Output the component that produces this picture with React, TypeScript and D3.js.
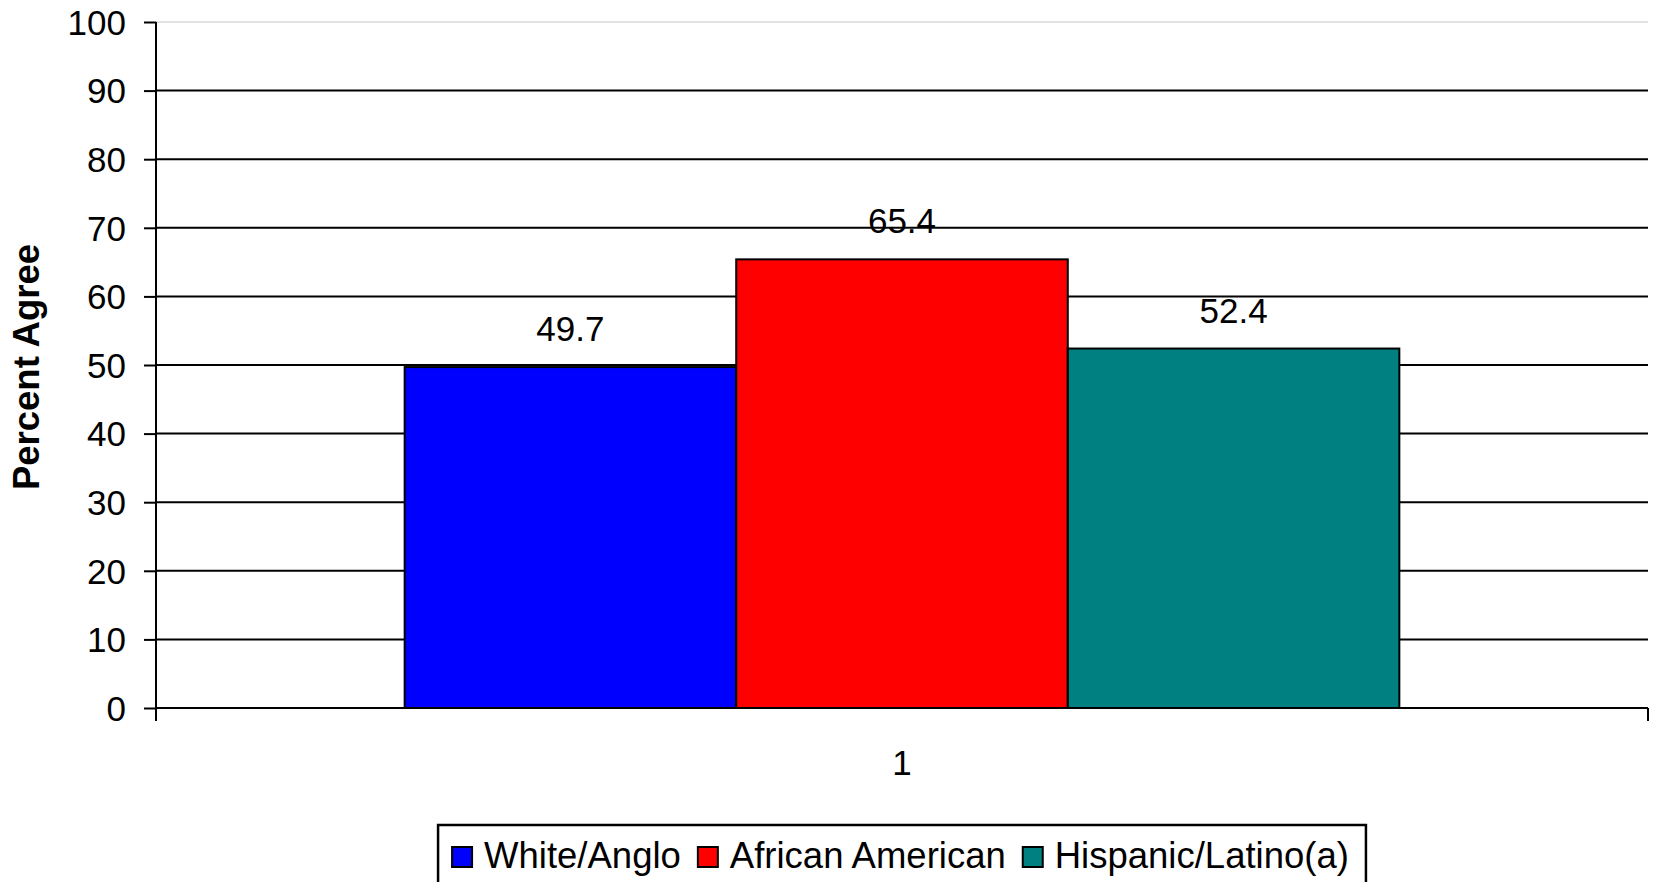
import { useEffect, useRef } from 'react';
import * as d3 from 'd3';

// chart values
const categories = ['1'];
const seriesNames = ['White/Anglo', 'African American', 'Hispanic/Latino(a)'];
const seriesValues = [49.7, 65.4, 52.4];
const seriesColors = ['#0000ff', '#ff0000', '#008080'];
const yTicks = [0, 10, 20, 30, 40, 50, 60, 70, 80, 90, 100];
const yTitle = 'Percent Agree';

const FONT = "'Liberation Sans', Arial, sans-serif";

export default function App() {
  const svgRef = useRef<SVGSVGElement>(null);

  useEffect(() => {
    if (!svgRef.current) return;
    const svg = d3.select(svgRef.current);
    svg.selectAll('*').remove();

    const width = 1658;
    const height = 882;
    const margin = { top: 22, right: 10, bottom: 174, left: 156 };
    const x0 = margin.left;
    const x1 = width - margin.right;
    const yBottom = height - margin.bottom;

    svg.attr('width', width).attr('height', height);

    const xScale = d3.scaleBand<string>()
      .domain(categories)
      .range([x0, x1])
      .paddingInner(0.2)
      .paddingOuter(0.2);

    const xInner = d3.scaleBand<string>()
      .domain(seriesNames)
      .range([0, xScale.bandwidth()]);

    const yScale = d3.scaleLinear()
      .domain([0, 100])
      .range([yBottom, margin.top]);

    // gridlines
    svg.append('g')
      .selectAll('line')
      .data(yTicks.filter(t => t > 0))
      .enter().append('line')
      .attr('x1', x0)
      .attr('x2', x1)
      .attr('y1', d => yScale(d))
      .attr('y2', d => yScale(d))
      .attr('stroke', d => (d === 100 ? '#e2e2e2' : '#000'))
      .attr('stroke-width', 2);

    // bars
    const rows = seriesNames.map((name, i) => ({ name, value: seriesValues[i], color: seriesColors[i] }));
    const group = svg.append('g').attr('transform', `translate(${xScale(categories[0])},0)`);

    group.selectAll('rect')
      .data(rows)
      .enter().append('rect')
      .attr('x', d => xInner(d.name)!)
      .attr('y', d => yScale(d.value))
      .attr('width', xInner.bandwidth())
      .attr('height', d => yBottom - yScale(d.value))
      .attr('fill', d => d.color)
      .attr('stroke', '#000')
      .attr('stroke-width', 2);

    group.selectAll('text.value')
      .data(rows)
      .enter().append('text')
      .attr('class', 'value')
      .attr('x', d => xInner(d.name)! + xInner.bandwidth() / 2)
      .attr('y', d => yScale(d.value) - 26)
      .attr('text-anchor', 'middle')
      .style('font-family', FONT)
      .style('font-size', '35px')
      .style('fill', '#000')
      .text(d => d.value.toFixed(1));

    // y axis
    const yAxis = d3.axisLeft(yScale)
      .tickValues(yTicks)
      .tickSize(12)
      .tickSizeOuter(0)
      .tickPadding(18);
    const yg = svg.append('g').attr('transform', `translate(${x0},0)`).call(yAxis as any);
    yg.select('.domain').remove();
    yg.selectAll('line').attr('stroke', '#000').attr('stroke-width', 2);
    yg.selectAll('text')
      .style('font-family', FONT)
      .style('font-size', '35px')
      .attr('dy', '0.35em')
      .attr('fill', '#000');

    svg.append('line')
      .attr('x1', x0).attr('x2', x0)
      .attr('y1', margin.top).attr('y2', yBottom + 13)
      .attr('stroke', '#000').attr('stroke-width', 2);

    // x axis
    svg.append('line')
      .attr('x1', x0).attr('x2', x1)
      .attr('y1', yBottom).attr('y2', yBottom)
      .attr('stroke', '#000').attr('stroke-width', 2);

    svg.append('g')
      .selectAll('line')
      .data([x0, x1])
      .enter().append('line')
      .attr('x1', d => d).attr('x2', d => d)
      .attr('y1', yBottom).attr('y2', yBottom + 13)
      .attr('stroke', '#000').attr('stroke-width', 2);

    svg.append('g')
      .selectAll('text')
      .data(categories)
      .enter().append('text')
      .attr('x', d => xScale(d)! + xScale.bandwidth() / 2)
      .attr('y', yBottom + 67)
      .attr('text-anchor', 'middle')
      .style('font-family', FONT)
      .style('font-size', '35px')
      .text(d => d);

    // y title
    svg.append('text')
      .attr('transform', `translate(39,367) rotate(-90)`)
      .attr('text-anchor', 'middle')
      .style('font-family', FONT)
      .style('font-size', '36.5px')
      .style('font-weight', 'bold')
      .text(yTitle);

    // legend
    const legend = svg.append('g');
    const box = legend.append('rect')
      .attr('fill', '#fff')
      .attr('stroke', '#000')
      .attr('stroke-width', 2.5);

    let cursor = 0;
    const items = legend.append('g');
    rows.forEach(d => {
      items.append('rect')
        .attr('x', cursor)
        .attr('y', -21)
        .attr('width', 20)
        .attr('height', 20)
        .attr('fill', d.color)
        .attr('stroke', '#000')
        .attr('stroke-width', 2);
      const t = items.append('text')
        .attr('x', cursor + 32)
        .attr('y', 0)
        .style('font-family', FONT)
        .style('font-size', '36.5px')
        .text(d.name);
      const len = (t.node() as SVGTextElement).getComputedTextLength();
      cursor += 32 + len + 17;
    });
    const itemsWidth = cursor - 17;
    const boxWidth = itemsWidth + 31;
    const boxLeft = xScale(categories[0])! + xScale.bandwidth() / 2 - boxWidth / 2;
    box.attr('x', boxLeft).attr('y', 825).attr('width', boxWidth).attr('height', 80);
    items.attr('transform', `translate(${boxLeft + 14},868)`);
  }, []);

  return (
    <svg
      ref={svgRef}
      style={{ position: 'absolute', left: 0, top: 0, background: '#fff' }}
    ></svg>
  );
}
